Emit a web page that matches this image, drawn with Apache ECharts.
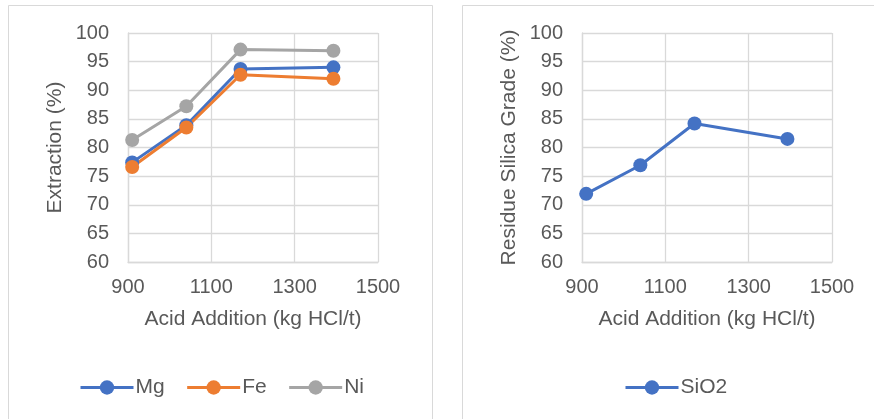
<!DOCTYPE html>
<html>
<head>
<meta charset="utf-8">
<title>Acid addition</title>
<script src="https://cdn.jsdelivr.net/npm/echarts@6/dist/echarts.min.js"></script>
<style>
  html, body { margin: 0; padding: 0; background: #fff; }
  #chart { width: 874px; height: 419px; }
</style>
</head>
<body>
<div id="chart"></div>
<script>
// acid addition (kg HCl/t)
const acidAddition = [910, 1040, 1170, 1393];

// extraction (%)
const mgExtraction = [77.4, 83.9, 93.7, 94.0];
const feExtraction = [76.6, 83.5, 92.7, 92.0];
const niExtraction = [81.3, 87.2, 97.1, 96.9];

// residue silica grade (%)
const sio2Grade = [71.9, 76.9, 84.2, 81.5];

const FONT = "'Liberation Sans', Arial, sans-serif";
const TEXT_COLOR = "#595959";
const GRID_COLOR = "#d9d9d9";

const pairs = (ys) => acidAddition.map((x, i) => [x, ys[i]]);

const xAxisBase = (gridIndex) => ({
  gridIndex,
  type: "value",
  min: 900,
  max: 1500,
  interval: 200,
  name: "Acid Addition (kg HCl/t)",
  nameLocation: "middle",
  nameGap: 47,
  nameTextStyle: { color: TEXT_COLOR, fontSize: 21, fontFamily: FONT },
  axisLine: { show: true, lineStyle: { color: GRID_COLOR, width: 1.3 } },
  axisTick: { show: false },
  axisLabel: {
    color: TEXT_COLOR, fontSize: 20, fontFamily: FONT, margin: 15,
    formatter: (v) => String(v),
  },
  splitLine: { show: true, lineStyle: { color: GRID_COLOR, width: 1.3 } },
});

const yAxisBase = (gridIndex, name) => ({
  gridIndex,
  type: "value",
  min: 60,
  max: 100,
  interval: 5,
  name,
  nameLocation: "middle",
  nameGap: 62,
  nameTextStyle: { color: TEXT_COLOR, fontSize: 21, fontFamily: FONT },
  axisLine: { show: true, lineStyle: { color: GRID_COLOR, width: 1.3 } },
  axisTick: { show: false },
  axisLabel: { color: TEXT_COLOR, fontSize: 20, fontFamily: FONT, margin: 19 },
  splitLine: { show: true, lineStyle: { color: GRID_COLOR, width: 1.3 } },
});

const lineSeries = (name, data, color, idx) => ({
  name,
  type: "line",
  xAxisIndex: idx,
  yAxisIndex: idx,
  data: pairs(data),
  symbol: "circle",
  symbolSize: 14,
  lineStyle: { color, width: 3 },
  itemStyle: { color },
  z: 3,
});

const legendBase = {
  top: 372,
  itemWidth: 53,
  itemHeight: 18,
  itemGap: 21,
  lineStyle: { width: 3 },
  textStyle: { color: TEXT_COLOR, fontSize: 21, fontFamily: FONT, padding: [0, 0, 0, -3] },
};

const chart = echarts.init(document.getElementById("chart"));

const option = {
  backgroundColor: "#fff",
  animation: false,
  graphic: [
    {
      type: "rect",
      shape: { x: 8.5, y: 5.5, width: 424, height: 430 },
      style: { fill: "none", stroke: GRID_COLOR, lineWidth: 1 },
      silent: true,
    },
    {
      type: "rect",
      shape: { x: 462.5, y: 5.5, width: 440, height: 430 },
      style: { fill: "none", stroke: GRID_COLOR, lineWidth: 1 },
      silent: true,
    },
  ],
  grid: [
    { left: 128, top: 33, width: 250, height: 229 },
    { left: 582, top: 33, width: 250, height: 229 },
  ],
  xAxis: [xAxisBase(0), xAxisBase(1)],
  yAxis: [yAxisBase(0, "Extraction (%)"), yAxisBase(1, "Residue Silica Grade (%)")],
  legend: [
    Object.assign({}, legendBase, { data: ["Mg", "Fe", "Ni"], left: 74 }),
    Object.assign({}, legendBase, { data: ["SiO2"], left: 619 }),
  ],
  series: [
    lineSeries("Mg", mgExtraction, "#4472C4", 0),
    lineSeries("Fe", feExtraction, "#ED7D31", 0),
    lineSeries("Ni", niExtraction, "#A5A5A5", 0),
    lineSeries("SiO2", sio2Grade, "#4472C4", 1),
  ],
};

chart.setOption(option);
</script>
</body>
</html>
